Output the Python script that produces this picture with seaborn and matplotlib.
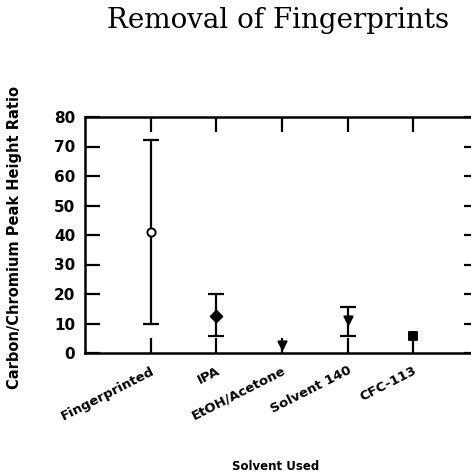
import numpy as np
import pandas as pd
import matplotlib
matplotlib.use("Agg")
import matplotlib.pyplot as plt
import seaborn as sns

# valores
solvents = ["Fingerprinted", "IPA", "EtOH/Acetone", "Solvent 140", "CFC-113"]
ratio = [41, 12.7, 2.6, 11.2, 5.6]
low = [10, 5.6, 2.6, 5.9, 5.6]
high = [72.3, 20, 2.6, 15.6, 5.6]
markers = ["o", "D", "v", "v", "s"]
filled = [False, True, True, True, True]

df = pd.DataFrame({"solvent": solvents, "ratio": ratio, "low": low, "high": high})
df["pos"] = np.arange(len(df))

sns.set_style("white")
plt.rcParams["font.family"] = ["DejaVu Sans"]
plt.rcParams["text.color"] = "black"
plt.rcParams["xtick.color"] = "black"
plt.rcParams["ytick.color"] = "black"
plt.rcParams["axes.labelcolor"] = "black"

fig = plt.figure(figsize=(4.71, 4.76), dpi=100)
ax = fig.add_axes([85 / 471, 123 / 476, 394 / 471, 236 / 476])

# barras de erro (só onde há intervalo)
eb = df[df["high"] > df["low"]]
ax.errorbar(eb["pos"], eb["ratio"],
            yerr=[eb["ratio"] - eb["low"], eb["high"] - eb["ratio"]],
            fmt="none", ecolor="black", elinewidth=1.6, capsize=5.5, capthick=1.6, zorder=2)

# marcadores
for i, row in df.iterrows():
    sns.scatterplot(x=[row["pos"]], y=[row["ratio"]], ax=ax, marker=markers[i], s=35,
                    color="black", facecolor="black" if filled[i] else "white",
                    edgecolor="black", linewidth=1.4, zorder=3, legend=False)

ax.set_xlim(-1, 5)
ax.set_ylim(0, 80)
ax.set_yticks(range(0, 81, 10))
ax.set_xticks(df["pos"])
ax.set_xticklabels(df["solvent"], rotation=27, ha="right", rotation_mode="anchor",
                   fontsize=9.5, fontweight="bold")
for lab in ax.get_yticklabels():
    lab.set_fontweight("bold")
    lab.set_fontsize(11)

ax.tick_params(axis="y", direction="in", length=11, width=1.6, left=True, right=True, pad=7)
ax.tick_params(axis="x", direction="in", length=11, width=1.6, bottom=True, top=True, pad=8)
for s in ax.spines.values():
    s.set_linewidth(1.8)
    s.set_color("black")

ax.set_ylabel("Carbon/Chromium Peak Height Ratio", fontsize=10.5, fontweight="bold")
ax.yaxis.set_label_coords(-0.16, 0.49)
fig.text(276 / 471, 1 - 467 / 476, "Solvent Used", ha="center", va="center",
         fontsize=8.5, fontweight="bold")
fig.text(278 / 471, 1 - 20 / 476, "Removal of Fingerprints", ha="center", va="center",
         fontsize=20, family="DejaVu Serif")

fig.savefig("out.png", dpi=100)
